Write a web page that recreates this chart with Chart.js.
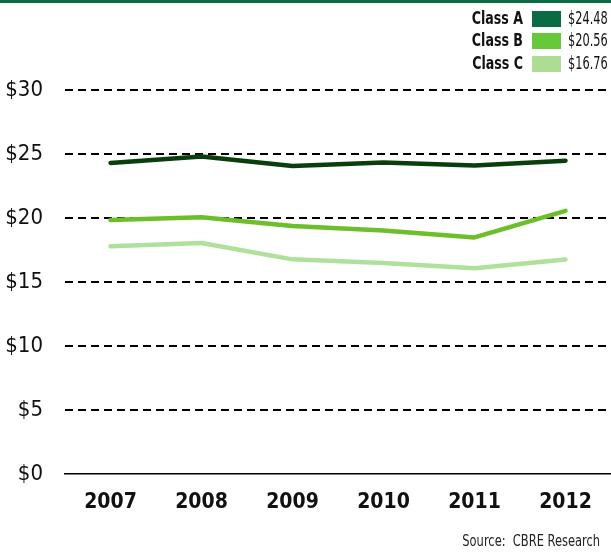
<!DOCTYPE html>
<html>
<head>
<meta charset="utf-8">
<script src="https://cdn.jsdelivr.net/npm/chart.js@4"></script>
<style>
    body { margin: 0; background: #fff; }
    #wrap { position: relative; width: 611px; height: 555px; }
    #topbar { position: absolute; left: 0; top: 0; width: 611px; height: 3px; background: #0b6b45; }
    #source { position: absolute; right: 11px; top: 532px; font: 15px "DejaVu Sans Condensed", sans-serif; color: #222; transform: scaleX(0.85); transform-origin: right top; }
</style>
</head>
<body>
<div id="wrap">
    <div id="topbar"></div>
    <canvas id="myChart" width="611" height="555"></canvas>
    <div id="source">Source:&nbsp; CBRE Research</div>
</div>
<script>
const years = ["2007", "2008", "2009", "2010", "2011", "2012"];
const classA = [24.3, 24.8, 24.07, 24.33, 24.1, 24.48];
const classB = [19.85, 20.05, 19.38, 19.02, 18.48, 20.56];
const classC = [17.8, 18.04, 16.77, 16.49, 16.07, 16.76];
const yTicks = [0, 5, 10, 15, 20, 25, 30];

const font = '"DejaVu Sans Condensed", sans-serif';

// legend in the top right: name, swatch, last value
// text squeezed a bit to look like the narrow original font
function squeezedText(ctx, text, x, y, sx) {
    ctx.save();
    ctx.translate(x, y);
    ctx.scale(sx, 1);
    ctx.fillText(text, 0, 0);
    ctx.restore();
}

const legendPlugin = {
    id: 'legendBox',
    afterDraw(chart) {
        const ctx = chart.ctx;
        const rows = [19, 41, 64];
        ctx.save();
        chart.data.datasets.forEach((ds, i) => {
            const y = rows[i];
            ctx.textBaseline = 'middle';
            ctx.fillStyle = '#111';
            ctx.font = 'bold 18px ' + font;
            ctx.textAlign = 'right';
            squeezedText(ctx, ds.label, 523, y, 0.78);
            ctx.fillStyle = ds.swatch;
            ctx.fillRect(532, y - 8, 29, 16);
            ctx.fillStyle = '#111';
            ctx.font = '18px ' + font;
            ctx.textAlign = 'left';
            const last = ds.data[ds.data.length - 1];
            squeezedText(ctx, '$' + last.toFixed(2), 568, y, 0.7);
        });
        ctx.restore();
    }
};

function drawChart() {
    const ctx = document.querySelector('#myChart').getContext('2d');
    const myChart = new Chart(ctx, {
        type: 'line',
        data: {
            labels: years,
            datasets: [
                { label: 'Class A', data: classA, borderColor: '#0a3f0d', swatch: '#0b6b45' },
                { label: 'Class B', data: classB, borderColor: '#6cbf2b', swatch: '#66c93a' },
                { label: 'Class C', data: classC, borderColor: '#b0e09c', swatch: '#acdd92' }
            ].map(d => Object.assign(d, {
                borderWidth: 4.5,
                pointRadius: 0,
                tension: 0,
                borderJoinStyle: 'round',
                borderCapStyle: 'round',
                fill: false
            }))
        },
        options: {
            responsive: false,
            animation: false,
            layout: { padding: { top: 90, bottom: 40, left: 0, right: 0 } },
            plugins: {
                legend: { display: false },
                tooltip: { enabled: false }
            },
            scales: {
                x: {
                    offset: true,
                    grid: { display: false, drawTicks: false },
                    border: { display: true, color: '#000', width: 1.5 },
                    ticks: {
                        color: '#111',
                        padding: 16,
                        font: { family: font, size: 21, weight: 'bold' }
                    },
                    afterFit: scale => { scale.height = 41; }
                },
                y: {
                    min: 0,
                    max: 30,
                    afterBuildTicks: scale => { scale.ticks = yTicks.map(v => ({ value: v })); },
                    grid: {
                        drawTicks: false,
                        color: c => c.tick && c.tick.value === 0 ? 'transparent' : '#000',
                        lineWidth: 2
                    },
                    border: { display: false, dash: [8, 5] },
                    ticks: {
                        color: '#111',
                        padding: 22,
                        font: { family: font, size: 22 },
                        callback: v => '$' + v
                    },
                    afterFit: scale => { scale.width = 65; }
                }
            }
        },
        plugins: [legendPlugin]
    });
}

document.fonts.load('18px "DejaVu Sans Condensed"').then(drawChart, drawChart);
</script>
</body>
</html>
